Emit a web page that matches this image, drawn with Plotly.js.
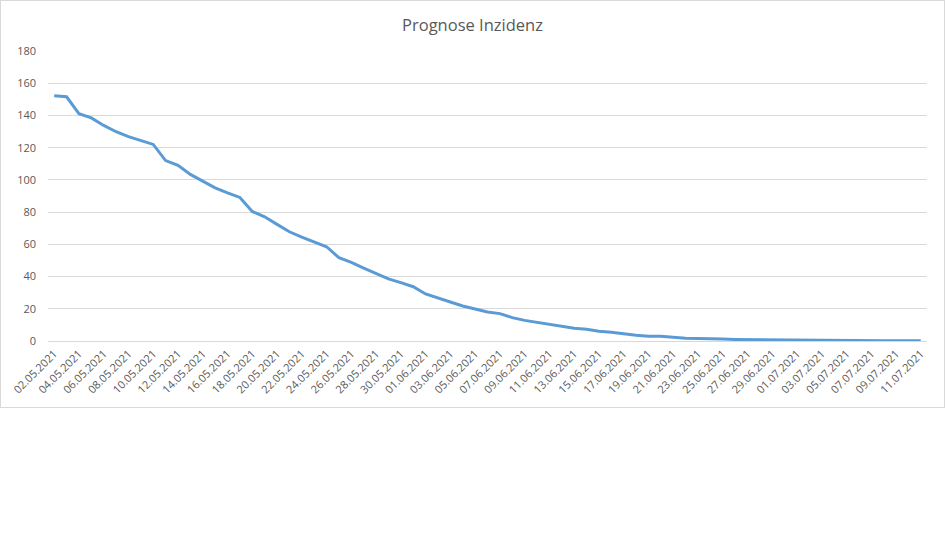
<!DOCTYPE html>
<html>
<head>
<meta charset="utf-8">
<script src="https://cdn.plot.ly/plotly-3.0.1.min.js"></script>
<style>
  html, body { margin: 0; padding: 0; background: #fff; }
  #wrap { position: relative; width: 945px; height: 553px; }
  #chart { position: absolute; left: 0; top: 0; width: 945px; height: 408px; }
  #frame { position: absolute; left: 0; top: 0; width: 943px; height: 406px; border: 1px solid #d9d9d9; pointer-events: none; }
</style>
</head>
<body>
<div id="wrap">
  <div id="chart"></div>
  <div id="frame"></div>
</div>
<script>
// Dates (categories), daily from 02.05.2021 to 11.07.2021
const dates = [
  "02.05.2021","03.05.2021","04.05.2021","05.05.2021","06.05.2021","07.05.2021","08.05.2021","09.05.2021",
  "10.05.2021","11.05.2021","12.05.2021","13.05.2021","14.05.2021","15.05.2021","16.05.2021","17.05.2021",
  "18.05.2021","19.05.2021","20.05.2021","21.05.2021","22.05.2021","23.05.2021","24.05.2021","25.05.2021",
  "26.05.2021","27.05.2021","28.05.2021","29.05.2021","30.05.2021","31.05.2021","01.06.2021","02.06.2021",
  "03.06.2021","04.06.2021","05.06.2021","06.06.2021","07.06.2021","08.06.2021","09.06.2021","10.06.2021",
  "11.06.2021","12.06.2021","13.06.2021","14.06.2021","15.06.2021","16.06.2021","17.06.2021","18.06.2021",
  "19.06.2021","20.06.2021","21.06.2021","22.06.2021","23.06.2021","24.06.2021","25.06.2021","26.06.2021",
  "27.06.2021","28.06.2021","29.06.2021","30.06.2021","01.07.2021","02.07.2021","03.07.2021","04.07.2021",
  "05.07.2021","06.07.2021","07.07.2021","08.07.2021","09.07.2021","10.07.2021","11.07.2021"
];

// Forecast incidence values
const inzidenz = [
  152.2, 151.6, 141.1, 138.5, 133.8, 129.9, 126.8, 124.5,
  122.0, 112.0, 109.0, 103.4, 99.5, 95.1, 92.0, 89.1,
  80.4, 77.1, 72.4, 67.8, 64.5, 61.4, 58.5, 51.7,
  48.8, 45.3, 42.0, 38.6, 36.2, 33.7, 29.2, 26.9,
  24.2, 21.7, 19.7, 18.0, 17.0, 14.5, 12.8, 11.6,
  10.4, 9.1, 7.9, 7.3, 6.0, 5.4, 4.3, 3.5,
  2.9, 2.9, 2.3, 1.7, 1.6, 1.6, 1.2, 1.0,
  0.9, 1.0, 0.9, 0.8, 0.6, 0.3, 0.2, 0.2,
  0.2, 0.2, 0.1, 0.1, 0.1, 0.1, 0.1
];

const yTicks = [0, 20, 40, 60, 80, 100, 120, 140, 160, 180];
const titleText = "Prognose Inzidenz";

// every second date gets a label; tick marks sit on the left boundary of each labelled category
const labelDates = dates.filter((d, i) => i % 2 === 0);
const boundaryTicks = dates.map((d, i) => i - 0.5).filter((v, i) => i % 2 === 0);

const textColor = "#595959";
const gridColor = "#d9d9d9";
const fontFamily = "'Open Sans', 'Liberation Sans', sans-serif";

const trace = {
  type: "scatter",
  mode: "lines",
  x: dates,
  y: inzidenz,
  line: { color: "#5b9bd5", width: 3, shape: "linear" },
  hoverinfo: "x+y",
  showlegend: false
};

const layout = {
  width: 945,
  height: 408,
  margin: { l: 48, r: 18, t: 50.5, b: 67, pad: 0 },
  paper_bgcolor: "#ffffff",
  plot_bgcolor: "#ffffff",
  font: { family: fontFamily, size: 11, color: textColor },
  title: {
    text: titleText,
    font: { family: fontFamily, size: 16.5, color: textColor },
    x: 0.5, xref: "container", xanchor: "center",
    y: 22, yref: "container", yanchor: "middle"
  },
  xaxis: {
    type: "category",
    categoryorder: "array",
    categoryarray: dates,
    range: [-0.5, dates.length - 0.5],
    tickmode: "array",
    tickvals: labelDates,
    ticktext: labelDates,
    ticks: "outside",
    ticklen: 1,
    tickcolor: "rgba(0,0,0,0)",
    tickangle: -45,
    showline: true,
    linecolor: gridColor,
    linewidth: 1,
    showgrid: false,
    zeroline: false,
    tickfont: { family: fontFamily, size: 11, color: textColor },
    fixedrange: true
  },
  xaxis2: {
    type: "linear",
    overlaying: "x",
    anchor: "y",
    side: "bottom",
    range: [-0.5, dates.length - 0.5],
    tickmode: "array",
    tickvals: boundaryTicks,
    ticks: "outside",
    ticklen: 5,
    tickcolor: gridColor,
    tickwidth: 1,
    showticklabels: false,
    showline: false,
    showgrid: false,
    zeroline: false,
    fixedrange: true
  },
  yaxis: {
    range: [0, 180],
    tickmode: "array",
    tickvals: yTicks,
    ticktext: yTicks.map(String),
    ticks: "",
    showline: false,
    showgrid: true,
    gridcolor: gridColor,
    gridwidth: 1,
    zeroline: false,
    ticklabelstandoff: 11,
    tickfont: { family: fontFamily, size: 11, color: textColor },
    fixedrange: true
  }
};

Plotly.newPlot("chart", [trace], layout, { displayModeBar: false, staticPlot: true });
</script>
</body>
</html>
